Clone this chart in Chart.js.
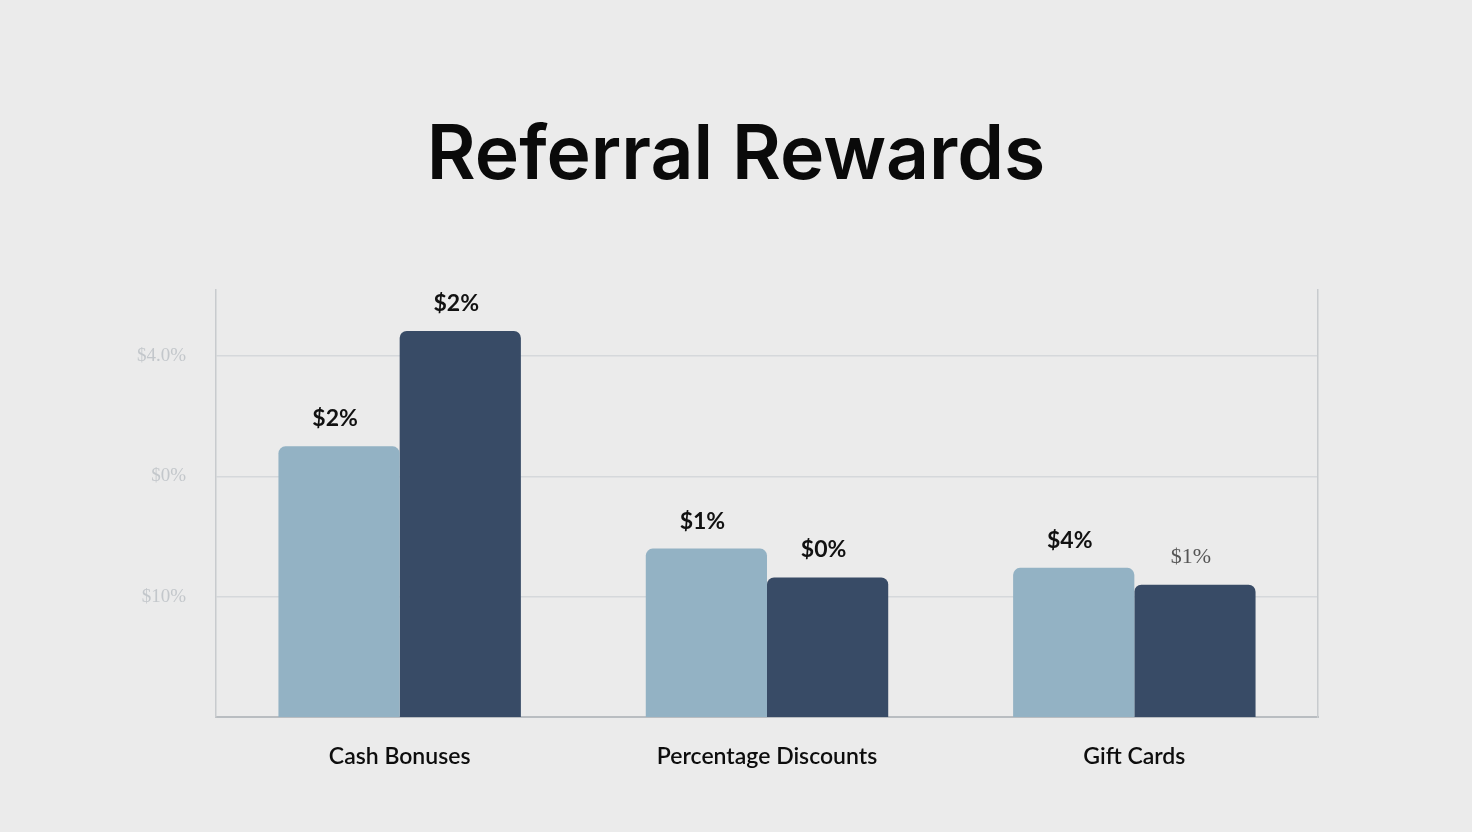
<!DOCTYPE html>
<html>
<head>
<meta charset="utf-8">
<title>Referral Rewards</title>
<script src="https://cdn.jsdelivr.net/npm/chart.js@4.4.1/dist/chart.umd.min.js"></script>
<style>
    html, body { margin: 0; padding: 0; background: #ebebeb; }
    #wrap { width: 1472px; height: 832px; }
</style>
</head>
<body>
<div id="wrap"><canvas id="rewardsChart" width="1472" height="832"></canvas></div>
<script>
const categories = ['Cash Bonuses', 'Percentage Discounts', 'Gift Cards'];
const seriesA = [2.25, 1.40, 1.24];
const seriesB = [3.21, 1.16, 1.10];
const labelsA = ['$2%', '$1%', '$4%'];
const labelsB = ['$2%', '$0%', '$1%'];
const labelColorsB = ['#111111', '#111111', '#555555'];
const yTickValues = [1, 2, 3];
const yTickLabels = ['$10%', '$0%', '$4.0%'];

// draws the little value text above each bar
const barValueLabels = {
    id: 'barValueLabels',
    afterDatasetsDraw(chart) {
        const ctx = chart.ctx;
        ctx.save();
        ctx.textAlign = 'center';
        ctx.textBaseline = 'bottom';
        chart.data.datasets.forEach((ds, i) => {
            const meta = chart.getDatasetMeta(i);
            meta.data.forEach((bar, j) => {
                const gray = ds.valueColors && ds.valueColors[j] !== '#111111';
                ctx.font = gray ? 'normal 22px "Liberation Serif"' : 'bold 23px Lato';
                ctx.fillStyle = ds.valueColors ? ds.valueColors[j] : '#111111';
                ctx.fillText(ds.valueLabels[j], bar.x - 4, bar.y - 16);
            });
        });
        ctx.restore();
    }
};

const ctx = document.getElementById('rewardsChart').getContext('2d');

new Chart(ctx, {
    type: 'bar',
    data: {
        labels: categories,
        datasets: [{
            label: 'A',
            data: seriesA,
            valueLabels: labelsA,
            backgroundColor: '#93b2c4',
            borderRadius: { topLeft: 7, topRight: 7 },
            borderSkipped: 'bottom',
            barPercentage: 1.0,
            categoryPercentage: 0.66
        }, {
            label: 'B',
            data: seriesB,
            valueLabels: labelsB,
            valueColors: labelColorsB,
            backgroundColor: '#384b66',
            borderRadius: { topLeft: 7, topRight: 7 },
            borderSkipped: 'bottom',
            barPercentage: 1.0,
            categoryPercentage: 0.66
        }]
    },
    options: {
        responsive: false,
        animation: false,
        layout: { padding: 0 },
        plugins: {
            legend: { display: false },
            tooltip: { enabled: false },
            title: {
                display: true,
                text: 'Referral Rewards',
                color: '#0a0a0a',
                font: { family: 'Inter', size: 75, weight: '600', lineHeight: 1.0 },
                padding: { top: 119, bottom: 96 }
            }
        },
        scales: {
            x: {
                grid: { display: false },
                border: { color: '#b9bdc1', width: 2 },
                ticks: {
                    color: '#0d0d0d',
                    font: { family: 'Lato', size: 23, weight: '600' },
                    padding: 18
                },
                afterFit(scale) { scale.height = 115; }
            },
            y: {
                min: 0,
                max: 3.55,
                afterBuildTicks(scale) {
                    scale.ticks = yTickValues.map(v => ({ value: v }));
                },
                grid: { color: '#d5d8db', lineWidth: 1.5, drawTicks: false },
                border: { color: '#c8cbce', width: 1.5 },
                ticks: {
                    color: '#c3c7cb',
                    font: { family: 'Liberation Serif', size: 19 },
                    padding: 30,
                    callback: (value) => yTickLabels[yTickValues.indexOf(value)]
                },
                afterFit(scale) { scale.width = 216; }
            },
            yRight: {
                position: 'right',
                min: 0,
                max: 3.55,
                grid: { display: false },
                border: { color: '#c8cbce', width: 1.5 },
                ticks: { display: false },
                afterFit(scale) { scale.width = 154; }
            }
        }
    },
    plugins: [barValueLabels]
});
</script>
</body>
</html>
